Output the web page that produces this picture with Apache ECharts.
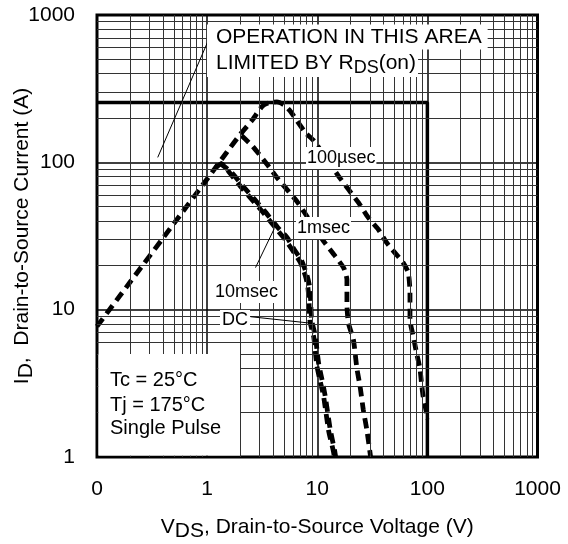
<!DOCTYPE html>
<html><head><meta charset="utf-8">
<script src="https://cdn.jsdelivr.net/npm/echarts@6/dist/echarts.min.js"></script>
<style>html,body{margin:0;padding:0;background:#fff}#c{width:568px;height:544px}</style>
</head><body><div id="c"></div>
<script>
const FONT = '"Liberation Sans", Arial, Helvetica, sans-serif';
const xTickLabels = ['0', '1', '10', '100', '1000'];
const yTickLabels = ['1', '10', '100', '1000'];

// safe operating area limits
const limitLine = [[0.1, 255], [100, 255], [100, 1]];

// curves (V, A)
const us100 = [[0.1, 7.7], [0.2, 15.4], [0.5, 38.5], [1, 77], [1.52, 118], [2.0, 155], [2.56, 193], [3.16, 240], [3.6, 253], [4.3, 257], [5.0, 245], [5.7, 222], [7.8, 159], [9.3, 140], [12, 107], [15.6, 80.7], [19.2, 65.5], [23.7, 53.2], [29.1, 42.1], [35.9, 35], [42.7, 28.5], [50.8, 24.3], [60.4, 20.8], [67.1, 17.8], [69.5, 13], [69.5, 8.55], [74.5, 6.58], [79.8, 5.07], [85.5, 4.0], [88.5, 3.17], [91.6, 2.57], [98.4, 1.98], [100, 1.8]];
const ms1 = [[2.05, 152], [2.6, 128], [3.5, 97], [4.3, 79], [5.3, 65.5], [6.5, 54.6], [7.5, 46.7], [9.3, 36.5], [11.4, 29.2], [14.6, 23], [17.5, 19], [18.6, 16], [18.6, 14.4], [18.6, 10.8], [19.2, 8.1], [21.3, 6.25], [22.9, 4.0], [24.5, 3.0], [26.2, 2.09], [28.2, 1.53], [30.2, 1.06], [30.5, 1]];
const ms10 = [[1.3, 99], [1.65, 86], [2.15, 68], [2.7, 56], [3.3, 47], [4.4, 36], [5.3, 31], [6.1, 26], [7.2, 21.5], [8.0, 17.5], [8.5, 14.5], [8.7, 11.7], [8.9, 8.5], [9.6, 6.6], [10.3, 4.3], [11, 3.4], [11.8, 2.6], [13.1, 1.55], [14.4, 1.1], [14.7, 1]];
const dc = [[1.2, 92], [1.35, 98], [1.6, 85], [2.1, 66], [2.6, 55], [3.2, 46], [4.3, 35], [5.1, 30], [5.9, 25.6], [7.0, 21], [7.8, 17], [8.2, 14.4], [8.4, 11.7], [8.6, 8.3], [9.3, 6.5], [9.9, 4.2], [10.6, 3.3], [11.4, 2.6], [12.7, 1.5], [14, 1.1], [14.3, 1]];

// annotation pointer lines (data coords)
const ptrRds = [[1.01, 655], [0.356, 108]];
const ptr10ms = [[2.75, 19.3], [4.08, 35.6]];
const ptrDc = [[2.48, 8.96], [8.64, 8.1]];

// log grid minor lines
const minorX = [], minorY = [];
for (let d = -1; d <= 2; d++) for (let k = 2; k <= 9; k++) minorX.push(k * Math.pow(10, d));
for (let d = 0; d <= 2; d++) for (let k = 2; k <= 9; k++) minorY.push(k * Math.pow(10, d));
const gridMarks = minorX.map(v => ({ xAxis: v })).concat(minorY.map(v => ({ yAxis: v })));

const chart = echarts.init(document.getElementById('c'), null, { renderer: 'canvas' });
const dash = { color: '#000', width: 4.8, type: [10, 6] };
const subRich = {
  n: { fontSize: 21, fontFamily: FONT, color: '#000', lineHeight: 30, verticalAlign: 'middle' },
  s: { fontSize: 21, fontFamily: FONT, color: '#000', lineHeight: 14, verticalAlign: 'bottom' }
};
function ptr(data) {
  return { type: 'line', data: data, symbol: 'none', silent: true, lineStyle: { color: '#000', width: 1 }, z: 5, animation: false };
}
chart.setOption({
  animation: false,
  backgroundColor: '#fff',
  grid: { left: 97, top: 15, right: 30.5, bottom: 87, show: true, borderColor: '#000', borderWidth: 3, backgroundColor: 'transparent', containLabel: false, outerBoundsMode: 'none' },
  xAxis: {
    type: 'log', logBase: 10, min: 0.1, max: 1000,
    axisLine: { show: false }, axisTick: { show: false },
    splitLine: { show: true, lineStyle: { color: '#000', width: 1.5 } },
    axisLabel: { fontSize: 21, color: '#000', fontFamily: FONT, margin: 22, formatter: v => xTickLabels[Math.round(Math.log10(v)) + 1] },
    name: '{n|V}{s|DS}{n|, Drain-to-Source Voltage (V)}', nameLocation: 'middle', nameGap: 55, nameMoveOverlap: false,
    nameTextStyle: { rich: subRich }
  },
  yAxis: {
    type: 'log', logBase: 10, min: 1, max: 1000,
    axisLine: { show: false }, axisTick: { show: false },
    splitLine: { show: true, lineStyle: { color: '#000', width: 1.5 } },
    axisLabel: { fontSize: 21, color: '#000', fontFamily: FONT, margin: 22, formatter: v => yTickLabels[Math.round(Math.log10(v))] },
    name: '{n|I}{s|D}{n|,  Drain-to-Source Current (A)}', nameLocation: 'middle', nameGap: 60, nameMoveOverlap: false,
    nameTextStyle: { rich: subRich }
  },
  series: [
    { type: 'line', data: [[1, 1]], symbol: 'none', lineStyle: { opacity: 0 }, silent: true, z: 1,
      markLine: { silent: true, animation: false, symbol: ['none', 'none'], label: { show: false }, emphasis: { disabled: true },
        lineStyle: { color: '#333', width: 1, type: 'solid' }, data: gridMarks } },
    { type: 'line', data: limitLine, symbol: 'none', silent: true, lineStyle: { color: '#000', width: 3.5 }, z: 3 },
    { name: '100µsec', type: 'line', data: us100, symbol: 'none', smooth: 0.2, lineStyle: dash, z: 4 },
    { name: '1msec', type: 'line', data: ms1, symbol: 'none', smooth: 0.2, lineStyle: dash, z: 4 },
    { name: '10msec', type: 'line', data: ms10, symbol: 'none', smooth: 0.2, lineStyle: dash, z: 4 },
    { name: 'DC', type: 'line', data: dc, symbol: 'none', smooth: 0.2, lineStyle: dash, z: 4 },
    ptr(ptrRds), ptr(ptr10ms), ptr(ptrDc)
  ],
  graphic: [
    { type: 'rect', z: 100, shape: { x: 98.5, y: 354, width: 141.5, height: 101.5 }, style: { fill: '#fff' } },
    { type: 'text', z: 101, x: 110, y: 380, style: { text: 'Tc = 25°C', font: '20px ' + FONT, fill: '#000', verticalAlign: 'middle' } },
    { type: 'text', z: 101, x: 110, y: 405, style: { text: 'Tj = 175°C', font: '20px ' + FONT, fill: '#000', verticalAlign: 'middle' } },
    { type: 'text', z: 101, x: 110, y: 428, style: { text: 'Single Pulse', font: '20px ' + FONT, fill: '#000', verticalAlign: 'middle' } },
    { type: 'text', z: 101, x: 207, y: 37, style: { text: 'OPERATION IN THIS AREA', font: '21px ' + FONT, fill: '#000', verticalAlign: 'middle', backgroundColor: '#fff', padding: [2, 6, 2, 9] } },
    { type: 'text', z: 101, x: 207, y: 63, style: { text: '{n|LIMITED BY R}{s|DS}{n|(on)}', fill: '#000', verticalAlign: 'middle', backgroundColor: '#fff', padding: [0, 2, 0, 9],
      rich: { n: { fontSize: 21, fontFamily: FONT, lineHeight: 28, verticalAlign: 'middle' }, s: { fontSize: 18, fontFamily: FONT, lineHeight: 14, verticalAlign: 'bottom' } } } },
    { type: 'text', z: 101, x: 306, y: 158, style: { text: '100µsec', font: '18px ' + FONT, fill: '#000', verticalAlign: 'middle', backgroundColor: '#fff', padding: [2, 1] } },
    { type: 'text', z: 101, x: 296, y: 228, style: { text: '1msec', font: '18px ' + FONT, fill: '#000', verticalAlign: 'middle', backgroundColor: '#fff', padding: [2, 1] } },
    { type: 'text', z: 101, x: 214, y: 292, style: { text: '10msec', font: '18px ' + FONT, fill: '#000', verticalAlign: 'middle', backgroundColor: '#fff', padding: [2, 1] } },
    { type: 'text', z: 101, x: 220, y: 320, style: { text: 'DC', font: '18px ' + FONT, fill: '#000', verticalAlign: 'middle', backgroundColor: '#fff', padding: [1, 2] } }
  ]
});
</script>
</body></html>
